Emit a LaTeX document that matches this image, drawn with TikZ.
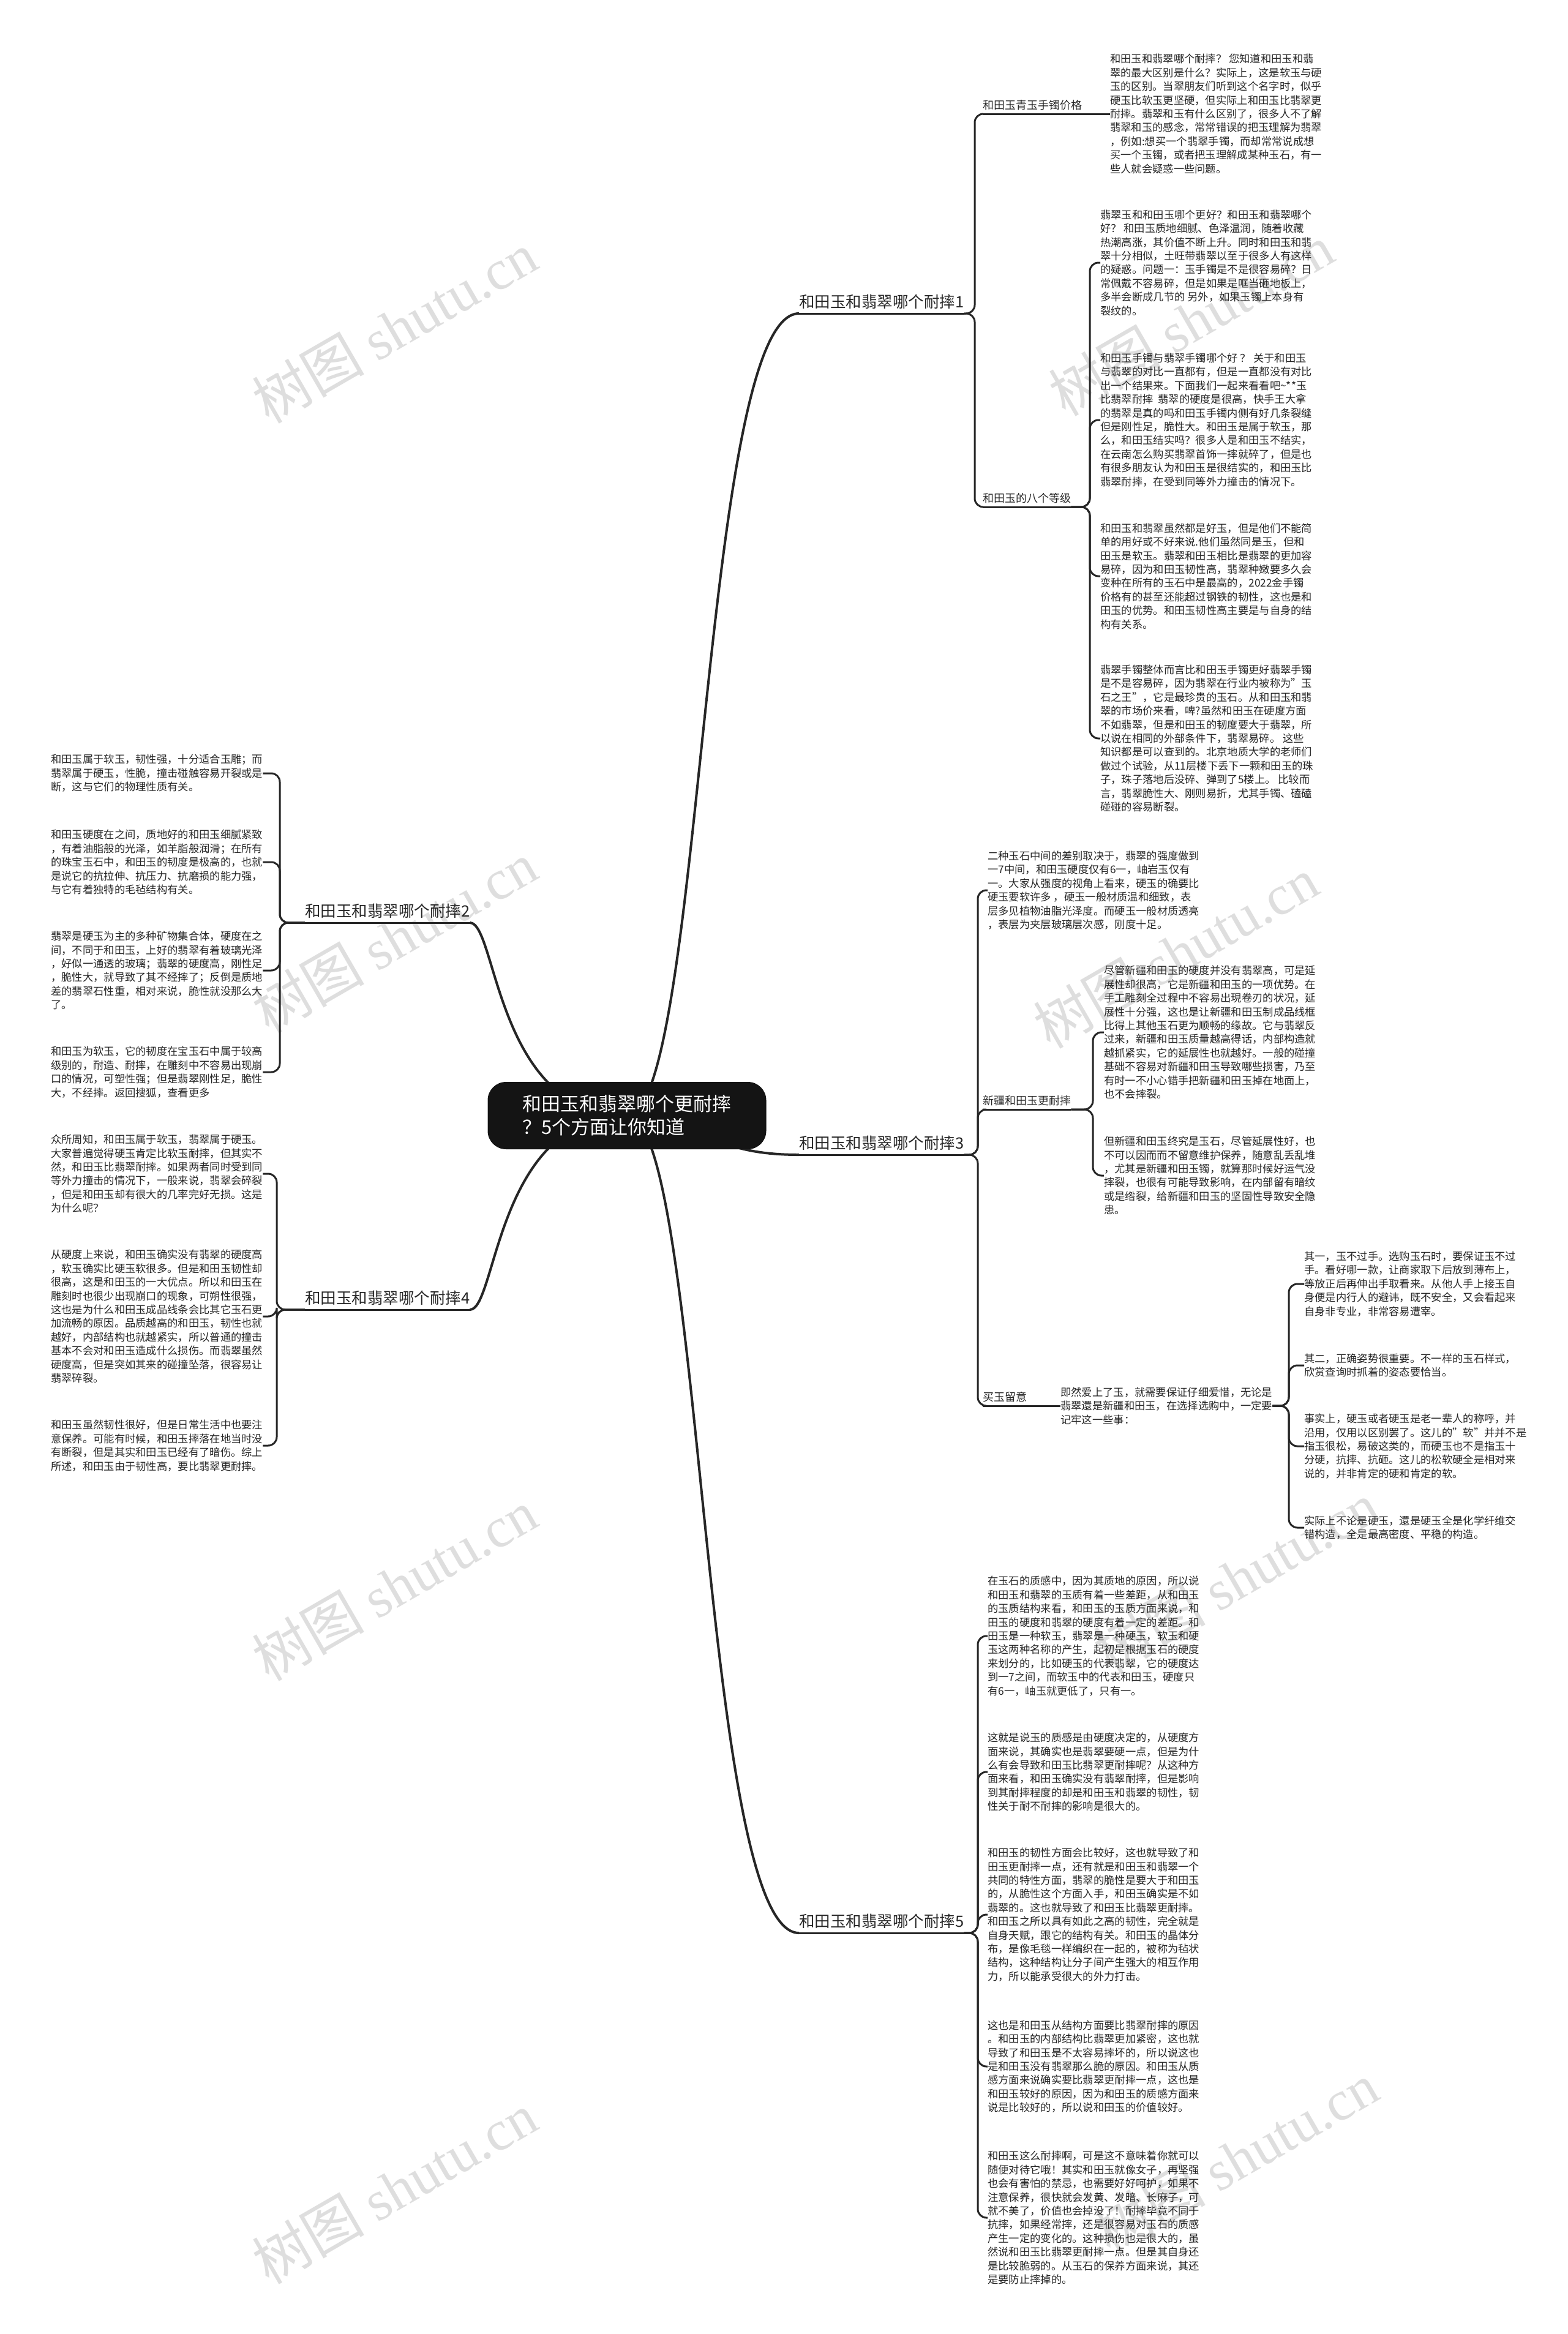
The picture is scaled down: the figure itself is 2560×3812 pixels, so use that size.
\documentclass[tikz,border=0pt]{standalone}
\usepackage{fontspec}
\setmainfont{Noto Sans CJK SC}
\newfontfamily\wmfont{Liberation Serif}
\begin{document}
\begin{tikzpicture}[x=1pt,y=-1pt,
  wm/.style={rotate=30,text=black!13,font=\fontsize{92}{92}\selectfont,inner sep=0pt},
  conn/.style={draw=black!85,line width=3pt,rounded corners=14pt},
  curve/.style={draw=black!85,line width=4pt},
  root/.style={fill=black!92,text=white,rounded corners=30pt,minimum width=455pt,minimum height=110pt,align=left,font=\fontsize{31}{38}\selectfont,inner sep=0pt},
  lone/.style={inner xsep=0pt,inner ysep=7pt,font=\fontsize{25.5}{30}\selectfont,text=black!85},
  ltwo/.style={anchor=south west,inner xsep=0pt,inner ysep=6pt,font=\fontsize{18}{22}\selectfont,text=black!85},
  para/.style={anchor=west,align=left,inner sep=0pt,font=\fontsize{17.3}{22.4}\selectfont,text=black!85}
]
\useasboundingbox[fill=white] (0,0) rectangle (2560,3812);
% watermarks
\foreach \wx/\wy [count=\i] in {644/535, 644/1531, 644/2589, 644/3574, 1945/523, 1920/1556, 2018/2577, 2018/3525}
  \node[wm] (wm\i) at (\wx,\wy) {树图 {\wmfont shutu.cn}};

% level-1 labels
\node[lone,anchor=south west] (b1) at (1305,512) {和田玉和翡翠哪个耐摔1};
\node[lone,anchor=south west] (b3) at (1305,1886) {和田玉和翡翠哪个耐摔3};
\node[lone,anchor=south west] (b5) at (1305,3157) {和田玉和翡翠哪个耐摔5};
\node[lone,anchor=south west] (b2) at (498,1507) {和田玉和翡翠哪个耐摔2};
\node[lone,anchor=south west] (b4) at (498,2139) {和田玉和翡翠哪个耐摔4};
\foreach \b in {b1,b2,b3,b4,b5} \draw[conn] (\b.south west) -- (\b.south east);

% curves from root
\coordinate (rc) at (1024,1822);
\draw[curve] (rc) .. controls +(125,0) and +(-160,0) .. (b1.south west);
\draw[curve] (rc) .. controls +(125,0) and +(-160,0) .. (b3.south west);
\draw[curve] (rc) .. controls +(125,0) and +(-160,0) .. (b5.south west);
\draw[curve] (rc) .. controls +(-214,0) and +(44,0) .. (b2.south east);
\draw[curve] (rc) .. controls +(-214,0) and +(44,0) .. (b4.south east);

\node[root] (root) at (rc) {和田玉和翡翠哪个更耐摔\\？5个方面让你知道};

% level-2 labels
\node[ltwo] (a1) at (1605,186) {和田玉青玉手镯价格};
\node[ltwo] (a2) at (1605,828) {和田玉的八个等级};
\node[ltwo] (a3) at (1605,1812) {新疆和田玉更耐摔};
\node[ltwo] (a4) at (1605,2296) {买玉留意};
\foreach \a in {a1,a2,a3,a4} \draw[conn] (\a.south west) -- (\a.south east);

% paragraphs branch 1
\node[para] (P1) at (1813,186) {和田玉和翡翠哪个耐摔？ 您知道和田玉和翡\\翠的最大区别是什么？实际上，这是软玉与硬\\玉的区别。当翠朋友们听到这个名字时，似乎\\硬玉比软玉更坚硬，但实际上和田玉比翡翠更\\耐摔。翡翠和玉有什么区别了，很多人不了解\\翡翠和玉的感念，常常错误的把玉理解为翡翠\\，例如:想买一个翡翠手镯，而却常常说成想\\买一个玉镯，或者把玉理解成某种玉石，有一\\些人就会疑惑一些问题。};
\node[para] (P2) at (1797,429) {翡翠玉和和田玉哪个更好？和田玉和翡翠哪个\\好？ 和田玉质地细腻、色泽温润，随着收藏\\热潮高涨，其价值不断上升。同时和田玉和翡\\翠十分相似，土旺带翡翠以至于很多人有这样\\的疑惑。问题一：玉手镯是不是很容易碎？日\\常佩戴不容易碎，但是如果是哐当砸地板上，\\多半会断成几节的 另外，如果玉镯上本身有\\裂纹的。};
\node[para] (P3) at (1797,686) {和田玉手镯与翡翠手镯哪个好 ？ 关于和田玉\\与翡翠的对比一直都有，但是一直都没有对比\\出一个结果来。下面我们一起来看看吧\textasciitilde**玉\\比翡翠耐摔 \ 翡翠的硬度是很高，快手王大拿\\的翡翠是真的吗和田玉手镯内侧有好几条裂缝\\但是刚性足，脆性大。和田玉是属于软玉，那\\么，和田玉结实吗？很多人是和田玉不结实，\\在云南怎么购买翡翠首饰一摔就碎了，但是也\\有很多朋友认为和田玉是很结实的，和田玉比\\翡翠耐摔，在受到同等外力撞击的情况下。};
\node[para] (P4) at (1797,941) {和田玉和翡翠虽然都是好玉，但是他们不能简\\单的用好或不好来说.他们虽然同是玉，但和\\田玉是软玉。翡翠和田玉相比是翡翠的更加容\\易碎，因为和田玉韧性高，翡翠种嫩要多久会\\变种在所有的玉石中是最高的，2022金手镯\\价格有的甚至还能超过钢铁的韧性，这也是和\\田玉的优势。和田玉韧性高主要是与自身的结\\构有关系。};
\node[para] (P5) at (1797,1206) {翡翠手镯整体而言比和田玉手镯更好翡翠手镯\\是不是容易碎，因为翡翠在行业内被称为"玉\\石之王"，它是最珍贵的玉石。从和田玉和翡\\翠的市场价来看，啤?虽然和田玉在硬度方面\\不如翡翠，但是和田玉的韧度要大于翡翠，所\\以说在相同的外部条件下，翡翠易碎。 这些\\知识都是可以查到的。北京地质大学的老师们\\做过个试验，从11层楼下丢下一颗和田玉的珠\\子，珠子落地后没碎、弹到了5楼上。 比较而\\言，翡翠脆性大、刚则易折，尤其手镯、磕磕\\碰碰的容易断裂。};

% left paragraphs
\node[para] (PA) at (83,1263) {和田玉属于软玉，韧性强，十分适合玉雕；而\\翡翠属于硬玉，性脆，撞击碰触容易开裂或是\\断，这与它们的物理性质有关。};
\node[para] (PB) at (83,1408) {和田玉硬度在之间，质地好的和田玉细腻紧致\\，有着油脂般的光泽，如羊脂般润滑；在所有\\的珠宝玉石中，和田玉的韧度是极高的，也就\\是说它的抗拉伸、抗压力、抗磨损的能力强，\\与它有着独特的毛毡结构有关。};
\node[para] (PC) at (83,1585) {翡翠是硬玉为主的多种矿物集合体，硬度在之\\间，不同于和田玉，上好的翡翠有着玻璃光泽\\，好似一通透的玻璃；翡翠的硬度高，刚性足\\，脆性大，就导致了其不经摔了；反倒是质地\\差的翡翠石性重，相对来说，脆性就没那么大\\了。};
\node[para] (PD) at (83,1751) {和田玉为软玉，它的韧度在宝玉石中属于较高\\级别的，耐造、耐摔，在雕刻中不容易出现崩\\口的情况，可塑性强；但是翡翠刚性足，脆性\\大，不经摔。返回搜狐，查看更多};
\node[para] (PE) at (83,1917) {众所周知，和田玉属于软玉，翡翠属于硬玉。\\大家普遍觉得硬玉肯定比软玉耐摔，但其实不\\然，和田玉比翡翠耐摔。如果两者同时受到同\\等外力撞击的情况下，一般来说，翡翠会碎裂\\，但是和田玉却有很大的几率完好无损。这是\\为什么呢？};
\node[para] (PF) at (83,2150) {从硬度上来说，和田玉确实没有翡翠的硬度高\\，软玉确实比硬玉软很多。但是和田玉韧性却\\很高，这是和田玉的一大优点。所以和田玉在\\雕刻时也很少出现崩口的现象，可朔性很强，\\这也是为什么和田玉成品线条会比其它玉石更\\加流畅的原因。品质越高的和田玉，韧性也就\\越好，内部结构也就越紧实，所以普通的撞击\\基本不会对和田玉造成什么损伤。而翡翠虽然\\硬度高，但是突如其来的碰撞坠落，很容易让\\翡翠碎裂。};
\node[para] (PG) at (83,2361) {和田玉虽然韧性很好，但是日常生活中也要注\\意保养。可能有时候，和田玉摔落在地当时没\\有断裂，但是其实和田玉已经有了暗伤。综上\\所述，和田玉由于韧性高，要比翡翠更耐摔。};

% branch 3
\node[para] (PH) at (1613,1454) {二种玉石中间的差别取决于，翡翠的强度做到\\一7中间，和田玉硬度仅有6一，岫岩玉仅有\\一。大家从强度的视角上看来，硬玉的确要比\\硬玉要软许多 ，硬玉一般材质温和细致，表\\层多见植物油脂光泽度。而硬玉一般材质透亮\\，表层为夹层玻璃层次感，刚度十足。};
\node[para] (PI) at (1803,1686) {尽管新疆和田玉的硬度并没有翡翠高，可是延\\展性却很高，它是新疆和田玉的一项优势。在\\手工雕刻全过程中不容易出現卷刃的状况，延\\展性十分强，这也是让新疆和田玉制成品线框\\比得上其他玉石更为顺畅的缘故。它与翡翠反\\过来，新疆和田玉质量越高得话，内部构造就\\越抓紧实，它的延展性也就越好。一般的碰撞\\基础不容易对新疆和田玉导致哪些损害，乃至\\有时一不小心错手把新疆和田玉掉在地面上，\\也不会摔裂。};
\node[para] (PJ) at (1803,1920) {但新疆和田玉终究是玉石，尽管延展性好，也\\不可以因而而不留意维护保养，随意乱丢乱堆\\，尤其是新疆和田玉镯，就算那时候好运气没\\摔裂，也很有可能导致影响，在内部留有暗纹\\或是绺裂，给新疆和田玉的坚固性导致安全隐\\患。};
\node[para] (PK) at (1732,2296) {即然爱上了玉，就需要保证仔细爱惜，无论是\\翡翠還是新疆和田玉，在选择选购中，一定要\\记牢这一些事：};
\node[para] (K1) at (2130,2097) {其一，玉不过手。选购玉石时，要保证玉不过\\手。看好哪一款，让商家取下后放到薄布上，\\等放正后再伸出手取看来。从他人手上接玉自\\身便是内行人的避讳，既不安全，又会看起来\\自身非专业，非常容易遭宰。};
\node[para] (K2) at (2130,2230) {其二，正确姿势很重要。不一样的玉石样式，\\欣赏查询时抓着的姿态要恰当。};
\node[para] (K3) at (2130,2362) {事实上，硬玉或者硬玉是老一辈人的称呼，并\\沿用，仅用以区别罢了。这儿的"软"并并不是\\指玉很松，易破这类的，而硬玉也不是指玉十\\分硬，抗摔、抗砸。这儿的松软硬全是相对来\\说的，并非肯定的硬和肯定的软。};
\node[para] (K4) at (2130,2495) {实际上不论是硬玉，還是硬玉全是化学纤维交\\错构造，全是最高密度、平稳的构造。};

% branch 5
\node[para] (PL) at (1613,2672) {在玉石的质感中，因为其质地的原因，所以说\\和田玉和翡翠的玉质有着一些差距，从和田玉\\的玉质结构来看，和田玉的玉质方面来说，和\\田玉的硬度和翡翠的硬度有着一定的差距。和\\田玉是一种软玉，翡翠是一种硬玉，软玉和硬\\玉这两种名称的产生，起初是根据玉石的硬度\\来划分的，比如硬玉的代表翡翠，它的硬度达\\到一7之间，而软玉中的代表和田玉，硬度只\\有6一，岫玉就更低了，只有一。};
\node[para] (PM) at (1613,2894) {这就是说玉的质感是由硬度决定的，从硬度方\\面来说，其确实也是翡翠要硬一点，但是为什\\么有会导致和田玉比翡翠更耐摔呢？从这种方\\面来看，和田玉确实没有翡翠耐摔，但是影响\\到其耐摔程度的却是和田玉和翡翠的韧性，韧\\性关于耐不耐摔的影响是很大的。};
\node[para] (PN) at (1613,3127) {和田玉的韧性方面会比较好，这也就导致了和\\田玉更耐摔一点，还有就是和田玉和翡翠一个\\共同的特性方面，翡翠的脆性是要大于和田玉\\的，从脆性这个方面入手，和田玉确实是不如\\翡翠的。这也就导致了和田玉比翡翠更耐摔。\\和田玉之所以具有如此之高的韧性，完全就是\\自身天赋，跟它的结构有关。和田玉的晶体分\\布，是像毛毯一样编织在一起的，被称为毡状\\结构，这种结构让分子间产生强大的相互作用\\力，所以能承受很大的外力打击。};
\node[para] (PO) at (1613,3375) {这也是和田玉从结构方面要比翡翠耐摔的原因\\。和田玉的内部结构比翡翠更加紧密，这也就\\导致了和田玉是不太容易摔坏的，所以说这也\\是和田玉没有翡翠那么脆的原因。和田玉从质\\感方面来说确实要比翡翠更耐摔一点，这也是\\和田玉较好的原因，因为和田玉的质感方面来\\说是比较好的，所以说和田玉的价值较好。};
\node[para] (PP) at (1613,3622) {和田玉这么耐摔啊，可是这不意味着你就可以\\随便对待它哦！其实和田玉就像女子，再坚强\\也会有害怕的禁忌，也需要好好呵护，如果不\\注意保养，很快就会发黄、发暗、长麻子，可\\就不美了，价值也会掉没了！耐摔毕竟不同于\\抗摔，如果经常摔，还是很容易对玉石的质感\\产生一定的变化的。这种损伤也是很大的，虽\\然说和田玉比翡翠更耐摔一点。但是其自身还\\是比较脆弱的。从玉石的保养方面来说，其还\\是要防止摔掉的。};

% bracket columns
\coordinate (kb1) at (1592,0);
\coordinate (ka2) at (1780,0);
\coordinate (kb3) at (1597,0);
\coordinate (ka3) at (1785,0);
\coordinate (kK) at (2105,0);
\coordinate (kb5) at (1597,0);
\coordinate (kb2) at (457,0);
\coordinate (kb4) at (452,0);

\foreach \c in {a1,a2} \draw[conn] (b1.south east) -- (kb1 |- b1.south east) |- (\c.south west);
\draw[conn] (a1.south east) -- (P1.west);
\foreach \c in {P2,P3,P4,P5} \draw[conn] (a2.south east) -- (ka2 |- a2.south east) |- (\c.west);
\foreach \c in {PA,PB,PC,PD} \draw[conn] (b2.south west) -- (kb2 |- b2.south west) |- (\c.east);
\foreach \c in {PE,PF,PG} \draw[conn] (b4.south west) -- (kb4 |- b4.south west) |- (\c.east);
\draw[conn] (b3.south east) -- (kb3 |- b3.south east) |- (PH.west);
\draw[conn] (b3.south east) -- (kb3 |- b3.south east) |- (a3.south west);
\draw[conn] (b3.south east) -- (kb3 |- b3.south east) |- (a4.south west);
\foreach \c in {PI,PJ} \draw[conn] (a3.south east) -- (ka3 |- a3.south east) |- (\c.west);
\draw[conn] (a4.south east) -- (PK.west);
\foreach \c in {K1,K2,K3,K4} \draw[conn] (PK.east) -- (kK |- PK.east) |- (\c.west);
\foreach \c in {PL,PM,PN,PO,PP} \draw[conn] (b5.south east) -- (kb5 |- b5.south east) |- (\c.west);
\end{tikzpicture}
\end{document}
